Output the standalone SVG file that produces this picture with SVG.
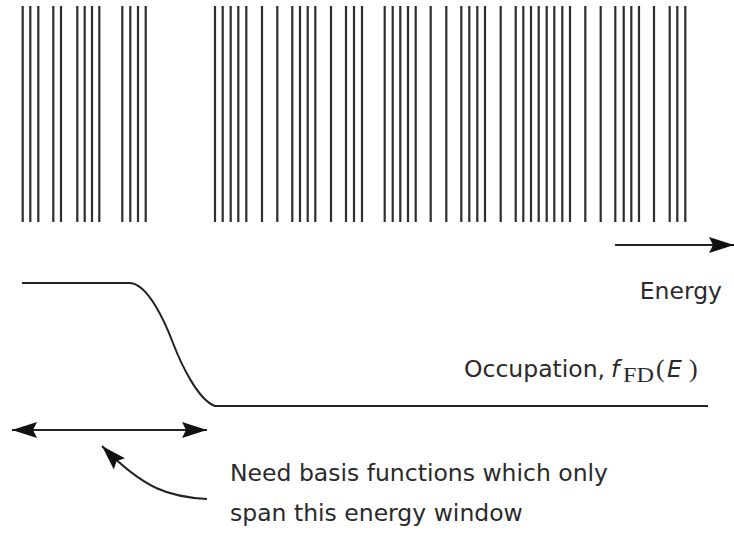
<svg xmlns="http://www.w3.org/2000/svg" width="734" height="540" viewBox="0 0 734 540">
<style>
.lv{stroke:#2e2e2e;stroke-width:2.2}
.ln{stroke:#222;stroke-width:2;fill:none}
.t{font-family:"DejaVu Sans","Liberation Sans",sans-serif;font-size:23.5px;fill:#2a2a2a}
.rm{font-family:"Liberation Serif",serif}
</style>
<defs>
<marker id="ah" viewBox="0 0 25 16" refX="25" refY="8" markerWidth="25" markerHeight="16" markerUnits="userSpaceOnUse" orient="auto-start-reverse">
<path d="M0,0 L25,8 L0,16 L4,8 Z" fill="#111"/>
</marker>
</defs>
<rect width="734" height="540" fill="#fff"/>
<g id="levels">
<path class="lv" d="M22.7,6V222M30.3,6V222M38.3,6V222M53.3,6V222M61,6V222M77.3,6V222M84.7,6V222M92,6V222M99.3,6V222M122.3,6V222M130.3,6V222M138,6V222M145.7,6V222"/>
<path class="lv" d="M215,6V222M222.7,6V222M230.7,6V222M238.3,6V222M246.3,6V222M262,6V222M277.3,6V222M292.3,6V222M300,6V222M307.7,6V222M315.3,6V222M331,6V222M346,6V222M354,6V222M362,6V222M384.7,6V222M392.7,6V222M400.3,6V222M408,6V222M415.7,6V222M430.7,6V222M446.3,6V222M461.3,6V222M469.3,6V222M477.3,6V222M485,6V222M500.7,6V222M515.7,6V222M523.3,6V222M531,6V222M538.7,6V222M546.7,6V222M554.3,6V222M562.3,6V222M570,6V222M585.3,6V222M600.7,6V222M615.3,6V222M623.7,6V222M631.3,6V222M639,6V222M654,6V222M669.7,6V222M677.3,6V222M685.3,6V222"/>
</g>
<g id="occupation-curve">
<path class="ln" d="M22,283 H130 C148,284 165,322 173,343 C181,364 198,400 215,406 H708"/>
</g>
<g id="connectors">
<line class="ln" x1="615" y1="245" x2="734" y2="245" marker-end="url(#ah)"/>
<line class="ln" x1="12" y1="430" x2="207" y2="430" marker-start="url(#ah)" marker-end="url(#ah)"/>
<path class="ln" d="M207,499 C170,497 145,490 102,446" marker-end="url(#ah)"/>
</g>
<g id="labels">
<text class="t" x="722" y="299" text-anchor="end">Energy</text>
<text class="t" y="377"><tspan x="464">Occupation,</tspan><tspan x="611" font-style="italic">f</tspan><tspan class="rm" x="623" y="382" font-size="21" textLength="31" lengthAdjust="spacingAndGlyphs">FD</tspan><tspan class="rm" x="656" y="377" font-size="26">(</tspan><tspan x="667" font-style="italic">E</tspan><tspan class="rm" x="689" font-size="26">)</tspan></text>
<text class="t" x="230" y="481">Need basis functions which only</text>
<text class="t" x="230" y="521">span this energy window</text>
</g>
</svg>
